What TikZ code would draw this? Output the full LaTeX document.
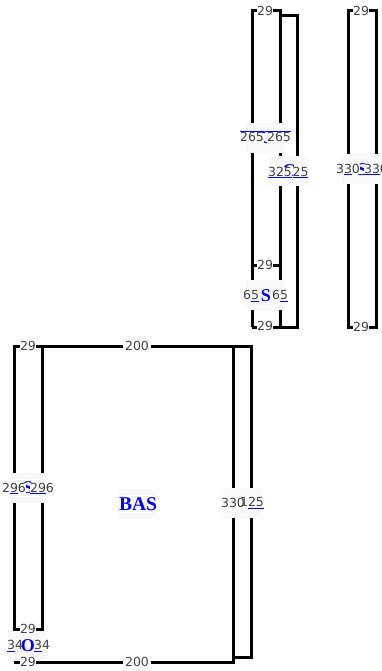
\documentclass[tikz,border=0pt]{standalone}
\usepackage{fontspec}
\setmainfont{DejaVu Sans}
\newfontfamily\basfont{Liberation Serif}
\definecolor{dimgray}{HTML}{444444}
\definecolor{boxgray}{HTML}{F9F9F9}
\newcommand{\und}[1]{{\color{blue}\underline{\color{dimgray}#1}}}
\newcommand{\ovr}[1]{{\color{blue}$\overline{\hbox{\color{dimgray}#1}}$}}
\tikzset{
  wall/.style={draw=black,line width=3pt,line cap=butt,line join=miter},
  patch/.style={fill=boxgray,minimum width=39pt,minimum height=30pt,inner sep=0pt},
  dimtext/.style={text=dimgray,font=\fontsize{12.5}{13}\selectfont,inner sep=0pt},
  dimfill/.style={dimtext,fill=boxgray,text height=9pt,text depth=1pt},
  gaptext/.style={dimtext,fill=white,minimum width=16pt,minimum height=10pt},
  gapwide/.style={dimtext,fill=white,minimum width=28pt,minimum height=10pt},
  partname/.style={text=blue,font=\basfont\fontsize{18}{18}\selectfont\bfseries,inner sep=0pt},
}
\begin{document}
\begin{tikzpicture}[x=1pt,y=-1pt]
\useasboundingbox (0,0) rectangle (381,671);
%--------------------------------------------------- top parts
\draw[wall] (252,327) -- (252,11) -- (280,11) -- (280,327) ;
\draw[wall] (252,265) -- (280,265) ;
\draw[wall] (252,327) -- (297,327) -- (297,16) -- (280,16) ;
\draw[wall] (348,327) -- (348,11) -- (376,11) -- (376,327) -- cycle ;
%--------------------------------------------------- bottom parts
\draw[wall] (14,629) -- (14,346) -- (42,346) -- (42,629) -- cycle ;
\draw[wall] (14,662) -- (233,662) -- (233,346) -- (42,346) -- (42,662) ;
\draw[wall] (233,346) -- (251,346) -- (251,657) -- (233,657) ;
%--------------------------------------------------- patches
\node[patch] (patchc) at (265.5,138) {};
\node[patch] (patchr) at (288.5,171) {};
\node[patch] (patchs) at (265.5,295) {};
\node[patch] (patchq) at (361.5,169) {};
\node[patch] (patchp) at (27.5,488) {};
\node[patch] (patcho) at (27.5,646) {};
\node[patch] (patchb) at (137.5,504) {};
\node[patch] (patchd) at (242.5,503) {};
%--------------------------------------------------- part names
\node[partname] (namec) at (266,138) {C};
\node[partname] (namer) at (289,171) {C};
\node[partname] (names) at (266,296) {S};
\node[partname] (nameq) at (362,170) {S};
\node[partname] (namep) at (28,488) {S};
\node[partname] (nameo) at (28,646) {O};
\node[partname,font=\basfont\fontsize{19.5}{20}\selectfont\bfseries] (nameb) at (138,504) {BAS};
%--------------------------------------------------- widths
\node[gaptext] (topa) at (265,11) {29};
\node[gaptext] (topb) at (265,265) {29};
\node[gaptext] (topc) at (265,325.5) {29};
\node[gaptext] (topd) at (361,11) {29};
\node[gaptext] (tope) at (361,327) {29};
\node[gaptext] (bota) at (28,346) {29};
\node[gaptext] (botb) at (28,629) {29};
\node[gaptext] (botc) at (28,662) {29};
\node[gapwide] (wida) at (137,346) {200};
\node[gapwide] (widb) at (137,662) {200};
%--------------------------------------------------- heights
\node[dimfill] (hgta) at (252,138) {\ovr{2}\ovr{6}\ovr{5}};
\node[dimfill] (hgtb) at (279,138) {\ovr{2}\ovr{6}\ovr{5}};
\node[dimfill] (hgtc) at (280,172) {\und{3}\und{2}\und{5}};
\node[dimfill] (hgtd) at (300.5,172) {\und{2}\und{5}};
\node[dimtext] (hgte) at (251,296) {6\und{5}};
\node[dimtext] (hgtf) at (280,296) {6\und{5}};
\node[dimfill] (hgtg) at (348,169) {3\und{3}0};
\node[dimfill] (hgth) at (376,169) {\und{3}\und{3}0};
\node[dimfill] (hgti) at (14,488) {2\und{9}6};
\node[dimfill] (hgtj) at (42,488) {\und{2}\und{9}6};
\node[dimtext] (hgtk) at (15,646) {\und{3}4};
\node[dimtext] (hgtl) at (42,646) {\und{3}4};
\node[dimtext] (hgtm) at (233,503) {330};
\node[dimtext] (hgtn) at (252,503) {1\und{2}\und{5}};
\end{tikzpicture}
\end{document}
